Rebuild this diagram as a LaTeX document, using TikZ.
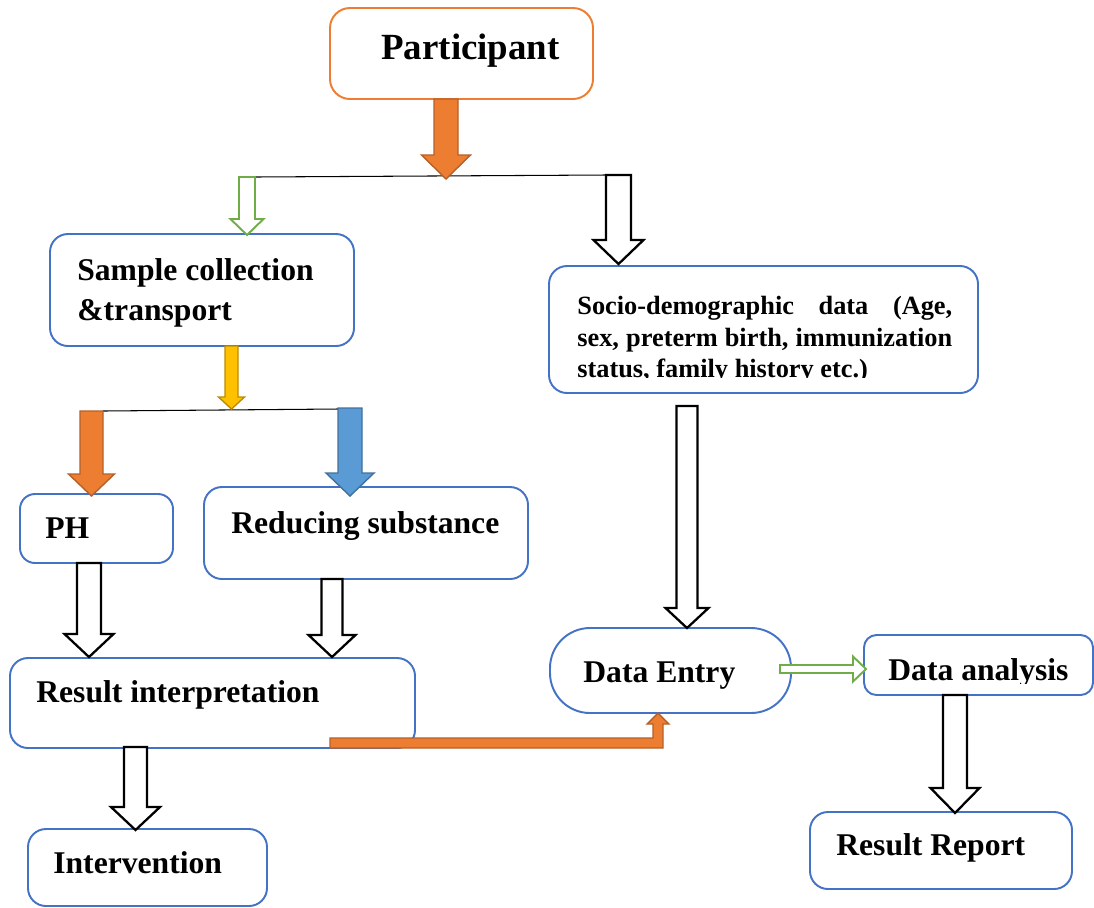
\documentclass[tikz,border=0pt]{standalone}
\usepackage{fontspec}
\setmainfont{Liberation Serif}
\usetikzlibrary{calc,fit}

\definecolor{boxblue}{HTML}{4472C4}
\definecolor{orng}{HTML}{ED7D31}
\definecolor{orngdark}{HTML}{B4602A}
\definecolor{grn}{HTML}{70AD47}
\definecolor{yel}{HTML}{FFC000}
\definecolor{yeldark}{HTML}{BC8C00}
\definecolor{blu}{HTML}{5B9BD5}
\definecolor{bludark}{HTML}{41719C}

% block arrow pointing down: style, top, tip, half shaft, half head, head length
\newcommand{\blockdown}[6]{%
  \draw[#1] ($(#2)+(-#4,0)$) -- ($(#2)+(#4,0)$) -- ($(#3)+(#4,-#6)$) -- ($(#3)+(#5,-#6)$)
    -- (#3) -- ($(#3)+(-#5,-#6)$) -- ($(#3)+(-#4,-#6)$) -- cycle;}

\begin{document}
\begin{tikzpicture}[x=0.02cm, y=-0.02cm,
    box/.style={draw=boxblue, line width=1.1pt, rounded corners=0.36cm, inner sep=0pt},
    txt/.style={inner sep=0pt, font=\fontsize{18}{22.7}\selectfont\bfseries},
    hollow/.style={draw=black, line width=1.3pt, fill=white},
    grnarrow/.style={draw=grn, line width=1.1pt, fill=white},
    orngarrow/.style={draw=orngdark, line width=0.8pt, fill=orng},
    yelarrow/.style={draw=yeldark, line width=0.8pt, fill=yel},
    bluarrow/.style={draw=bludark, line width=0.8pt, fill=blu}]
\useasboundingbox (0,0) rectangle (1094,907);
\clip (0,0) rectangle (1094,907);

% boxes
\node[box, draw=orng, rounded corners=0.4cm, fit={(330,8) (593,99)}] (part) {};
\node[box, fit={(50,234) (354,346)}] (sample) {};
\node[box, fit={(549,266) (978,393)}] (socio) {};
\node[box, rounded corners=0.3cm, fit={(20,494) (173,563)}] (ph) {};
\node[box, fit={(204,487) (528,579)}] (reduc) {};
\node[box, fit={(10,658) (415,748)}] (interp) {};
\node[box, rounded corners=0.8cm, fit={(550,628) (791,713)}] (entry) {};
\node[box, rounded corners=0.25cm, fit={(864,635) (1093,695)}] (analysis) {};
\node[box, fit={(810,812) (1072,889)}] (report) {};
\node[box, fit={(28,829) (267,906)}] (interv) {};

% texts
\node[txt, font=\fontsize{21}{25}\selectfont\bfseries, anchor=base west] (parttxt) at (381,59) {Participant};
\node[txt, anchor=north west, align=left] (sampletxt) at (77,258) {Sample collection\\\&transport};
\node[txt, anchor=base west] (phtxt) at (45,538) {PH};
\node[txt, anchor=base west] (reductxt) at (231,533) {Reducing substance};
\node[txt, anchor=base west] (interptxt) at (36,702) {Result interpretation};
\node[txt, anchor=base west] (intervtxt) at (53,873) {Intervention};
\node[txt, anchor=base west] (entrytxt) at (583,682) {Data Entry};
\node[txt, anchor=base west] (reporttxt) at (836,855) {Result Report};
\begin{scope}
  \clip (864,635) rectangle (1094,683);
  \node[txt, anchor=base west] (analysistxt) at (888,680) {Data analysis};
\end{scope}
\begin{scope}
  \clip (549,266) rectangle (978,377);
  \node[txt, font=\fontsize{15}{17.9}\selectfont\bfseries, text width=7.5cm, align=justify,
    anchor=north west] (sociotxt) at (577,296)
    {Socio-demographic data (Age,\linebreak sex, preterm birth, immunization\linebreak status, family history etc.)};
\end{scope}

% branch lines
\coordinate (splitL) at (255,177); \coordinate (splitR) at (606,175);
\coordinate (forkL) at (103,411); \coordinate (forkR) at (338,409);
\draw[line width=0.6pt] (splitL) -- (splitR);
\draw[line width=0.6pt] (forkL) -- (forkR);

% arrows
\coordinate (a1) at (446,99);    \coordinate (a1t) at (446,179);
\coordinate (a2) at (247,177);   \coordinate (a2t) at (247,235);
\coordinate (a3) at (618.5,175); \coordinate (a3t) at (618.5,264);
\coordinate (a4) at (231.5,346); \coordinate (a4t) at (231.5,409);
\coordinate (a5) at (91.5,411);  \coordinate (a5t) at (91.5,496);
\coordinate (a6) at (350,408);   \coordinate (a6t) at (350,496);
\coordinate (a7) at (89,563);    \coordinate (a7t) at (89,657);
\coordinate (a8) at (332,579);   \coordinate (a8t) at (332,657);
\coordinate (a9) at (687,406);   \coordinate (a9t) at (687,628);
\coordinate (a10) at (135.5,747); \coordinate (a10t) at (135.5,830);
\coordinate (a11) at (955,695);  \coordinate (a11t) at (955,813);

\blockdown{orngarrow}{a1}{a1t}{12}{24.5}{24}
\blockdown{grnarrow}{a2}{a2t}{8}{16.5}{16}
\blockdown{hollow}{a3}{a3t}{12.5}{25}{24}
\blockdown{yelarrow}{a4}{a4t}{6.5}{13}{12}
\blockdown{orngarrow}{a5}{a5t}{11.5}{23}{22}
\blockdown{bluarrow}{a6}{a6t}{12}{24}{23}
\blockdown{hollow}{a7}{a7t}{12}{24.5}{23}
\blockdown{hollow}{a8}{a8t}{10.5}{23.5}{22}
\blockdown{hollow}{a9}{a9t}{10.5}{21.5}{20}
\blockdown{hollow}{a10}{a10t}{11.5}{24.5}{23}
\blockdown{hollow}{a11}{a11t}{12}{24.5}{25}

% data entry -> data analysis
\coordinate (gstart) at (780,669); \coordinate (gtip) at (866,669);
\draw[grnarrow] ($(gstart)+(0,-4)$) -- ($(gtip)+(-13,-4)$) -- ($(gtip)+(-13,-12.5)$) -- (gtip)
  -- ($(gtip)+(-13,12.5)$) -- ($(gtip)+(-13,4)$) -- ($(gstart)+(0,4)$) -- cycle;

% result interpretation -> data entry
\coordinate (elbow) at (330,743); \coordinate (entrytip) at (658,713);
\draw[orngarrow] ($(elbow)+(0,-5)$) -- ($(entrytip)+(-5,25)$) -- ($(entrytip)+(-5,11)$) -- ($(entrytip)+(-11,11)$)
  -- (entrytip) -- ($(entrytip)+(11,11)$) -- ($(entrytip)+(5,11)$) -- ($(entrytip)+(5,35)$)
  -- ($(elbow)+(0,5)$) -- cycle;
\end{tikzpicture}
\end{document}
